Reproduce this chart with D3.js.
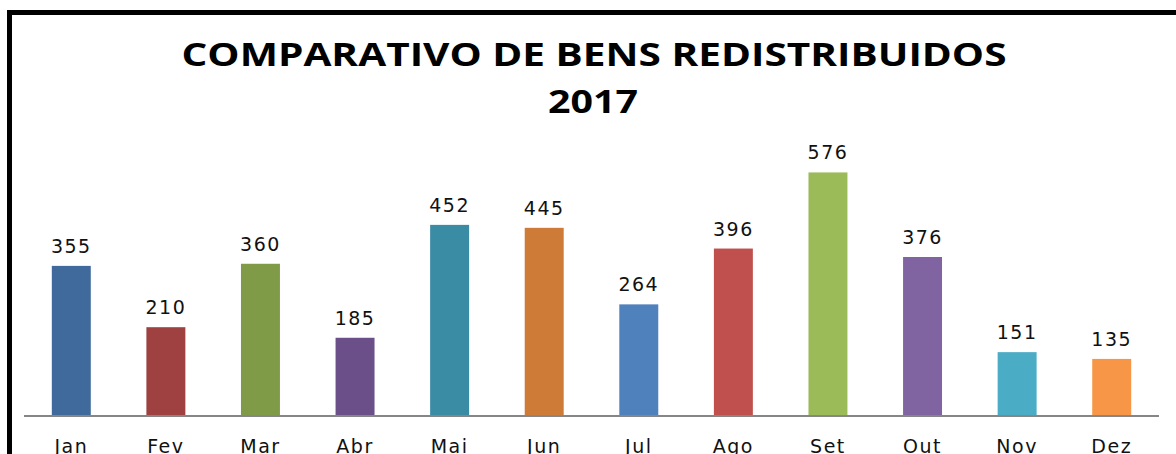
<!DOCTYPE html>
<html>
<head>
<meta charset="utf-8">
<script src="https://cdn.jsdelivr.net/npm/d3@7"></script>
<style>
  body { margin: 0; background: #fff; }
  svg { display: block; }
</style>
</head>
<body>
<div id="chart"></div>
<script>
const months = ["Jan", "Fev", "Mar", "Abr", "Mai", "Jun", "Jul", "Ago", "Set", "Out", "Nov", "Dez"];
const values = [355, 210, 360, 185, 452, 445, 264, 396, 576, 376, 151, 135];
const colors = ["#3F6A9B", "#9E4140", "#7F9B48", "#6A4F88", "#3A8BA4", "#CF7B38",
                "#4F81BD", "#C0504D", "#9BBB59", "#8064A2", "#4BACC6", "#F79646"];

const W = 1176, H = 454;
const plotLeft = 24, plotRight = 1159, plotBase = 416, plotTop = 120;

const svg = d3.select("#chart")
    .append("svg")
    .attr("width", W)
    .attr("height", H);

// frame (runs off the right and bottom edges)
svg.append("rect")
    .attr("x", 9.5)
    .attr("y", 12.5)
    .attr("width", W + 20)
    .attr("height", H + 20)
    .attr("fill", "none")
    .attr("stroke", "#000")
    .attr("stroke-width", 5);

const x = d3.scaleBand()
    .domain(months)
    .range([plotLeft, plotRight])
    .paddingInner(0.588)
    .paddingOuter(0.294);

const y = d3.scaleLinear()
    .domain([0, 700])
    .range([plotBase, plotTop]);

svg.selectAll("rect.bar")
    .data(months)
    .enter()
    .append("rect")
    .attr("class", "bar")
    .attr("x", d => x(d))
    .attr("y", (d, i) => y(values[i]))
    .attr("width", x.bandwidth())
    .attr("height", (d, i) => plotBase - y(values[i]))
    .attr("fill", (d, i) => colors[i]);

svg.selectAll("text.val")
    .data(months)
    .enter()
    .append("text")
    .attr("class", "val")
    .attr("x", d => x(d) + x.bandwidth() / 2)
    .attr("y", (d, i) => y(values[i]) - 13)
    .attr("text-anchor", "middle")
    .style("font-family", "DejaVu Sans")
    .style("font-size", "19px")
    .style("letter-spacing", "1.5px")
    .attr("fill", "#111")
    .text((d, i) => values[i]);

// x axis (labels run off the bottom edge, as in the original)
const xAxis = svg.append("g")
    .attr("transform", `translate(0,${plotBase})`)
    .call(d3.axisBottom(x).tickSize(0).tickPadding(24));
xAxis.select(".domain")
    .attr("stroke", "#868686")
    .attr("stroke-width", 2)
    .attr("d", `M${plotLeft},0H${plotRight}`);
xAxis.selectAll("text")
    .style("font-family", "DejaVu Sans")
    .style("font-size", "19px")
    .style("letter-spacing", "1.5px")
    .attr("fill", "#111");

// title
svg.append("text")
    .attr("x", 594)
    .attr("y", 66)
    .attr("text-anchor", "middle")
    .style("font-family", "Open Sans")
    .style("font-weight", "bold")
    .style("font-size", "32px")
    .attr("textLength", 825)
    .attr("lengthAdjust", "spacingAndGlyphs")
    .text("COMPARATIVO DE BENS REDISTRIBUIDOS");

svg.append("text")
    .attr("x", 593)
    .attr("y", 113)
    .attr("text-anchor", "middle")
    .style("font-family", "Open Sans")
    .style("font-weight", "bold")
    .style("font-size", "33px")
    .attr("textLength", 90)
    .attr("lengthAdjust", "spacingAndGlyphs")
    .text("2017");
</script>
</body>
</html>
